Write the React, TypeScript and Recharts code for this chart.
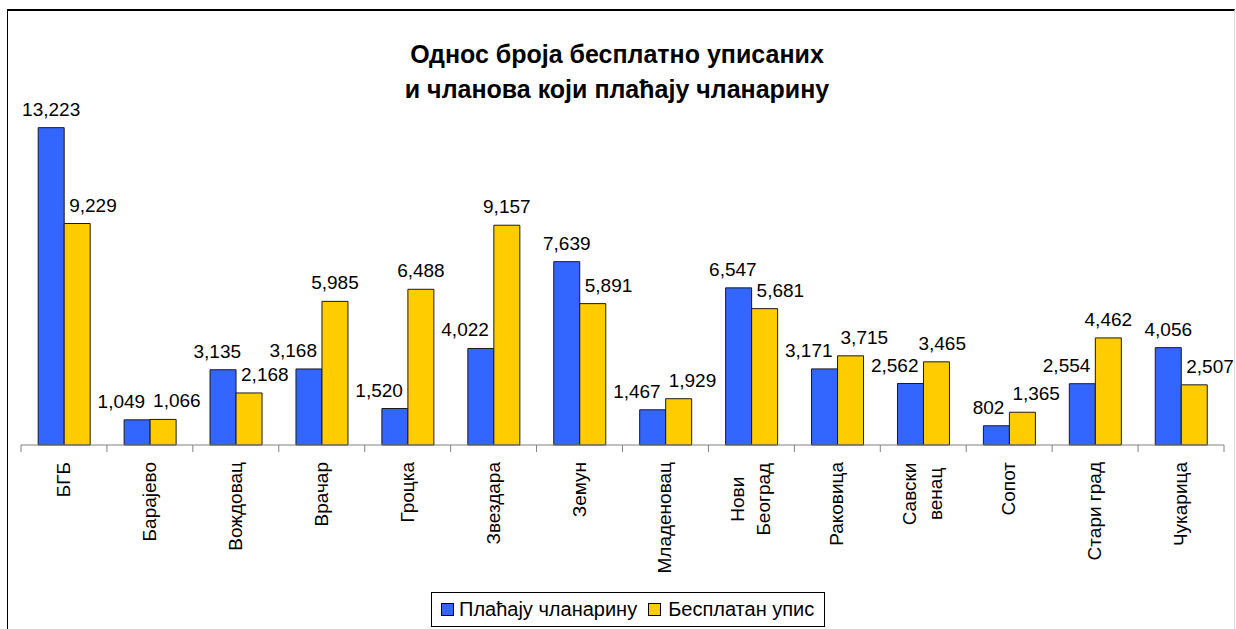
import React from 'react';
import { BarChart, Bar, XAxis, YAxis } from 'recharts';

const categories = ['БГБ', 'Барајево', 'Вождовац', 'Врачар', 'Гроцка', 'Звездара', 'Земун', 'Младеновац', 'Нови\nБеоград', 'Раковица', 'Савски\nвенац', 'Сопот', 'Стари град', 'Чукарица'];
const paidValues = [13223, 1049, 3135, 3168, 1520, 4022, 7639, 1467, 6547, 3171, 2562, 802, 2554, 4056];
const freeValues = [9229, 1066, 2168, 5985, 6488, 9157, 5891, 1929, 5681, 3715, 3465, 1365, 4462, 2507];
const seriesNames = ['Плаћају чланарину', 'Бесплатан упис'];
const titleLines = ['Однос броја бесплатно уписаних', 'и чланова који плаћају чланарину'];

const data = categories.map((c, i) => ({ name: c, paid: paidValues[i], free: freeValues[i] }));

const W = 1236;
const H = 629;
const M = { top: 109, right: 12, left: 21, bottom: 0 };
const BAND = (W - M.left - M.right) / categories.length;
const FONT = '"Liberation Sans", Arial, sans-serif';
const BLUE = '#3366FF';
const YELLOW = '#FFCC00';
const NUM_FS = 19;
const TICK_FS = 19;

const fmt = (v: number) => v.toLocaleString('en-US');
const textW = (s: string) => s.split('').reduce((a, ch) => a + (ch === ',' ? 0.278 : 0.556) * NUM_FS, 0);

const CategoryTick = (props: any) => {
  const { x, y, payload, index } = props;
  const axisY = y - 6;
  const lines: string[] = String(payload.value).split('\n');
  const fs = TICK_FS;
  const ay = axisY + 17;
  return (
    <g>
      <line x1={x - BAND / 2} x2={x - BAND / 2} y1={axisY} y2={axisY + 7} stroke="#808080" />
      {index === categories.length - 1 && (
        <line x1={x + BAND / 2} x2={x + BAND / 2} y1={axisY} y2={axisY + 7} stroke="#808080" />
      )}
      {lines.length === 1 ? (
        <text transform={`translate(${x + 6},${ay}) rotate(-90)`} textAnchor="end" fontSize={fs} fontFamily={FONT} fill="#000">
          {lines[0]}
        </text>
      ) : (
        lines.map((ln, i) => {
          const longest = Math.max(...lines.map((l) => l.length));
          const mid = ay + (longest * fs * 0.56) / 2;
          const bx = x - 7 + i * 26;
          return (
            <text key={i} transform={`translate(${bx},${mid}) rotate(-90)`} textAnchor="middle" fontSize={fs} fontFamily={FONT} fill="#000">
              {ln}
            </text>
          );
        })
      )}
    </g>
  );
};

const makeLabel = (series: 0 | 1) => (props: any) => {
  const { x, y, width, value } = props;
  const h = props.height ?? props.viewBox?.height;
  const idx = props.index ?? Math.floor((x - M.left) / BAND);
  const other = series === 0 ? freeValues[idx] : paidValues[idx];
  const ratio = value && Number.isFinite(h) ? h / value : 336 / 14000;
  const yOther = y - (other - value) * ratio;
  const text = fmt(value);
  const w = textW(text);
  const isBlue = series === 0;
  const bx = isBlue ? x + width : x;
  const dir = isBlue ? -1 : 1;
  let cx = x + width / 2;
  if (value <= other) {
    cx = bx + dir * (5 + w / 2);
  } else {
    const g = yOther - y - 14;
    if (g < 3) cx = bx + dir * (3 + w / 2);
    else if (g < 16) cx = bx - dir * 5 + dir * (w / 2);
  }
  return (
    <text x={cx} y={y - 12} textAnchor="middle" fontSize={NUM_FS} fontFamily={FONT} fill="#000">
      {text}
    </text>
  );
};

export default function App() {
  return (
    <div style={{ position: 'absolute', left: 0, top: 0, width: W, height: H, overflow: 'hidden', background: '#fff' }}>
      <div style={{ position: 'absolute', left: 7, top: 9, width: 1226, height: 640, borderLeft: '1px solid #000', borderTop: '2px solid #000', borderRight: '1px solid #ddd' }} />
      <div style={{ position: 'absolute', left: 0, top: 37, width: 1234, textAlign: 'center', fontFamily: FONT, fontWeight: 'bold', fontSize: 25, lineHeight: '35px', color: '#000' }}>
        <div>{titleLines[0]}</div>
        <div>{titleLines[1]}</div>
      </div>
      <div style={{ position: 'absolute', left: 0, top: 0 }}>
        <BarChart width={W} height={H} data={data} margin={M} barCategoryGap="20%" barGap={0}>
          <YAxis hide domain={[0, 14000]} />
          <XAxis dataKey="name" interval={0} height={184} tickSize={6} tickMargin={0} tickLine={false} axisLine={{ stroke: '#808080' }} tick={<CategoryTick />} />
          <Bar dataKey="paid" name={seriesNames[0]} fill={BLUE} stroke="#1a1a1a" strokeWidth={1} isAnimationActive={false} label={makeLabel(0)} />
          <Bar dataKey="free" name={seriesNames[1]} fill={YELLOW} stroke="#1a1a1a" strokeWidth={1} isAnimationActive={false} label={makeLabel(1)} />
        </BarChart>
      </div>
      <div style={{ position: 'absolute', left: 431, top: 592, width: 394, height: 35, border: '1px solid #000', boxSizing: 'border-box', display: 'flex', alignItems: 'center', fontFamily: FONT, fontSize: 20, color: '#000', whiteSpace: 'nowrap' }}>
        <span style={{ display: 'inline-block', width: 11, height: 11, background: BLUE, border: '1px solid #000', marginLeft: 9, marginRight: 5 }} />
        <span>{seriesNames[0]}</span>
        <span style={{ display: 'inline-block', width: 11, height: 11, background: YELLOW, border: '1px solid #000', marginLeft: 11, marginRight: 7 }} />
        <span>{seriesNames[1]}</span>
      </div>
    </div>
  );
}
